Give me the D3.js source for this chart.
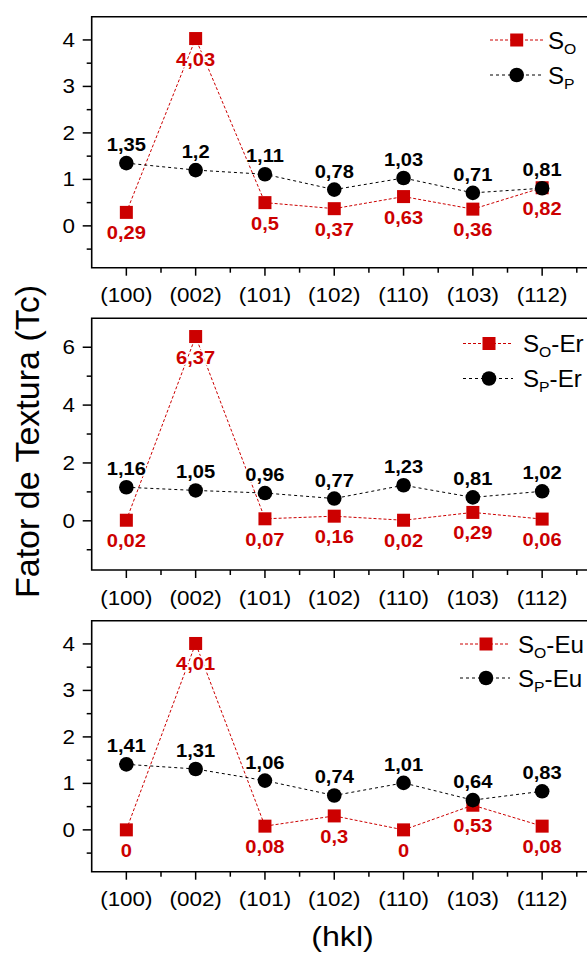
<!DOCTYPE html>
<html>
<head>
<meta charset="utf-8">
<script src="https://cdn.jsdelivr.net/npm/d3@7"></script>
<style>
  html, body { margin: 0; padding: 0; background: #fff; }
  svg { display: block; font-family: "Liberation Sans", Arial, sans-serif; }
</style>
</head>
<body>
<svg id="chart" width="587" height="955"></svg>
<script>
// Crystallographic planes (x axis)
const planes = ["(100)", "(002)", "(101)", "(102)", "(110)", "(103)", "(112)"];

// Texture coefficients per sample
const soValues   = [0.29, 4.03, 0.5, 0.37, 0.63, 0.36, 0.82];
const spValues   = [1.35, 1.2, 1.11, 0.78, 1.03, 0.71, 0.81];
const soErValues = [0.02, 6.37, 0.07, 0.16, 0.02, 0.29, 0.06];
const spErValues = [1.16, 1.05, 0.96, 0.77, 1.23, 0.81, 1.02];
const soEuValues = [0, 4.01, 0.08, 0.3, 0, 0.53, 0.08];
const spEuValues = [1.41, 1.31, 1.06, 0.74, 1.01, 0.64, 0.83];

// Legend suffixes and y-axis ticks per panel
const panelSuffixes = ["", "-Er", "-Eu"];
const yMajorTicks = [[0, 1, 2, 3, 4], [0, 2, 4, 6], [0, 1, 2, 3, 4]];
const yMinorTicks = [[-0.5, 0.5, 1.5, 2.5, 3.5], [-1, 1, 3, 5], [-0.5, 0.5, 1.5, 2.5, 3.5]];
const yDomains = [[-0.9, 4.5], [-1.7, 7], [-0.9, 4.5]];

const RED = "#cc0000";
const BLACK = "#000";
const SX = 1.15; // horizontal glyph widening

const svg = d3.select("#chart");

const left = 91.7, rightEdge = 590;
const x = d3.scaleLinear().domain([-0.5, 6.5]).range([left, 576.8]);

const panels = [
  { top: 16.7, bottom: 267.7, so: soValues, sp: spValues, legX: 516.7, legLine: [490, 543], legY: [40, 75], legText: 548 },
  { top: 318.3, bottom: 570, so: soErValues, sp: spErValues, legX: 489, legLine: [463, 513], legY: [343.5, 378.5], legText: 523 },
  { top: 620.7, bottom: 871.7, so: soEuValues, sp: spEuValues, legX: 486, legLine: [460, 510], legY: [644, 678], legText: 518 }
];

function stretchedText(g, tx, ty, str, opts) {
  const t = g.append("text")
    .attr("transform", `translate(${tx},${ty}) scale(${opts.sx || SX},1)`)
    .attr("text-anchor", opts.anchor || "middle")
    .attr("font-size", opts.size)
    .attr("font-weight", opts.weight || "normal")
    .attr("fill", opts.fill || BLACK)
    .text(str);
  if (opts.halo) {
    // white knockout so connecting lines stop short of the label
    t.attr("stroke", "#fff").attr("stroke-width", 3)
      .attr("stroke-linejoin", "round").attr("paint-order", "stroke");
  }
  return t;
}

const fmt = v => String(v).replace(".", ",");

panels.forEach((p, pi) => {
  const g = svg.append("g");
  const y = d3.scaleLinear().domain(yDomains[pi]).range([p.bottom, p.top]);

  // frame (right side runs past the canvas)
  g.append("path")
    .attr("d", `M${rightEdge},${p.top}H${left}V${p.bottom}H${rightEdge}`)
    .attr("fill", "none").attr("stroke", BLACK).attr("stroke-width", 1.6);

  // y ticks
  yMajorTicks[pi].forEach(v => {
    g.append("line").attr("x1", left - 9).attr("x2", left).attr("y1", y(v)).attr("y2", y(v))
      .attr("stroke", BLACK).attr("stroke-width", 1.5);
    stretchedText(g, 75, y(v) + 7, String(v), { size: 19.5, anchor: "end" });
  });
  yMinorTicks[pi].forEach(v => {
    g.append("line").attr("x1", left - 5).attr("x2", left).attr("y1", y(v)).attr("y2", y(v))
      .attr("stroke", BLACK).attr("stroke-width", 1.5);
  });

  // x ticks
  planes.forEach((c, i) => {
    g.append("line").attr("x1", x(i)).attr("x2", x(i)).attr("y1", p.bottom).attr("y2", p.bottom + 8)
      .attr("stroke", BLACK).attr("stroke-width", 1.5);
    stretchedText(g, x(i), p.bottom + 34.5, c, { size: 19.5 });
  });
  d3.range(0.5, 7, 1).forEach(v => {
    g.append("line").attr("x1", x(v)).attr("x2", x(v)).attr("y1", p.bottom).attr("y2", p.bottom + 5)
      .attr("stroke", BLACK).attr("stroke-width", 1.5);
  });

  const line = d3.line().x((d, i) => x(i)).y(d => y(d));

  // SO series (red squares)
  g.append("path").datum(p.so).attr("d", line)
    .attr("fill", "none").attr("stroke", RED).attr("stroke-width", 1).attr("stroke-dasharray", "3,2");
  g.selectAll(".sq").data(p.so).join("rect")
    .attr("x", (d, i) => x(i) - 6.5).attr("y", d => y(d) - 6.5)
    .attr("width", 13).attr("height", 13).attr("fill", RED);

  // SP series (black circles)
  g.append("path").datum(p.sp).attr("d", line)
    .attr("fill", "none").attr("stroke", BLACK).attr("stroke-width", 1).attr("stroke-dasharray", "3,3");
  g.selectAll(".ci").data(p.sp).join("circle")
    .attr("cx", (d, i) => x(i)).attr("cy", d => y(d)).attr("r", 7.3).attr("fill", BLACK);

  // value labels
  p.so.forEach((v, i) => {
    stretchedText(g, x(i), y(v) + 27, fmt(v), { size: 17.5, weight: "bold", fill: RED, sx: 1.15, halo: true });
  });
  p.sp.forEach((v, i) => {
    stretchedText(g, x(i), y(v) - 12, fmt(v), { size: 17.5, weight: "bold", fill: BLACK, sx: 1.15, halo: true });
  });

  // legend
  const entries = [
    { color: RED, dash: "3,2", sub: "O", shape: "square" },
    { color: BLACK, dash: "3,3", sub: "P", shape: "circle" }
  ];
  entries.forEach((e, k) => {
    const ly = p.legY[k];
    g.append("line").attr("x1", p.legLine[0]).attr("x2", p.legLine[1]).attr("y1", ly).attr("y2", ly)
      .attr("stroke", e.color).attr("stroke-width", 1).attr("stroke-dasharray", e.dash);
    if (e.shape === "square") {
      g.append("rect").attr("x", p.legX - 6.5).attr("y", ly - 6.5).attr("width", 13).attr("height", 13).attr("fill", e.color);
    } else {
      g.append("circle").attr("cx", p.legX).attr("cy", ly).attr("r", 7.3).attr("fill", e.color);
    }
    const t = g.append("text")
      .attr("transform", `translate(${p.legText},${ly + 8.5}) scale(1.05,1)`)
      .attr("font-size", 23).attr("fill", BLACK);
    t.append("tspan").text("S");
    t.append("tspan").attr("font-size", 15).attr("dy", 5).text(e.sub);
    if (panelSuffixes[pi]) t.append("tspan").attr("dy", -5).text(panelSuffixes[pi]);
  });
});

// axis titles
svg.append("text")
  .attr("transform", "translate(39,441.5) rotate(-90)")
  .attr("text-anchor", "middle").attr("font-size", 34).attr("fill", BLACK)
  .text("Fator de Textura (Tc)");

svg.append("text")
  .attr("transform", `translate(342.5,946) scale(1.15,1)`)
  .attr("text-anchor", "middle").attr("font-size", 28).attr("fill", BLACK)
  .text("(hkl)");
</script>
</body>
</html>
